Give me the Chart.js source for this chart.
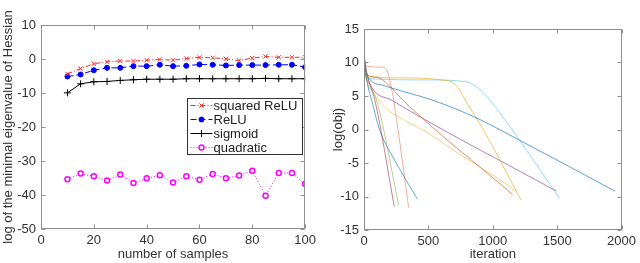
<!DOCTYPE html>
<html>
<head>
<meta charset="utf-8">
<script src="https://cdn.jsdelivr.net/npm/chart.js@4.4.1/dist/chart.umd.min.js"></script>
<style>
html,body{margin:0;padding:0;background:#fff;width:640px;height:263px;overflow:hidden;}
.w{position:absolute;top:0;width:320px;height:263px;}
</style>
</head>
<body>
<div class="w" style="left:0"><canvas id="c1" width="320" height="263"></canvas></div>
<div class="w" style="left:320px"><canvas id="c2" width="320" height="263"></canvas></div>
<script>
// ---------- Left chart data ----------
const samples   = [10,15,20,25,30,35,40,45,50,55,60,65,70,75,80,85,90,95,100];
const sqReLU    = [-4.4,-2.8,-1.4,-0.8,-0.6,-0.6,-0.35,-0.15,-0.35,0.15,0.5,0.35,0.05,-0.45,0.25,0.75,0.5,0.5,0.5];
const relu      = [-5.15,-4.55,-3.3,-2.6,-2.6,-2.1,-2.1,-1.7,-2.1,-2.0,-1.6,-1.7,-1.9,-1.8,-1.8,-1.8,-1.7,-1.7,-2.4];
const sigmoid   = [-9.95,-7.3,-6.7,-6.6,-6.3,-6.1,-5.95,-5.95,-5.95,-5.8,-5.8,-5.8,-5.8,-5.8,-5.8,-5.7,-5.8,-5.8,-5.8];
const quadratic = [-35.35,-33.7,-34.5,-35.7,-34.0,-36.5,-35.1,-34.2,-36.3,-34.5,-35.5,-33.8,-35.1,-34.3,-32.9,-40.2,-33.5,-33.5,-36.8];
const leftLabels = ['squared ReLU','ReLU','sigmoid','quadratic'];
const leftXTicks = [0,20,40,60,80,100];
const leftYTicks = [-50,-40,-30,-20,-10,0,10];

// ---------- Right chart data ----------
const runAIter = [0,20,60,147,300,530,888,1207,1600,1949];
const runAObj  = [11,8.5,7.2,6.6,5.7,4.4,1.6,-1.6,-5.6,-9.2];
const runBIter = [0,20,100,170,224,301,1155];
const runBObj  = [11,8.2,7.8,7.0,6.0,4.4,-9.7];
const runCIter = [0,25,300,600,690,740,786,926,1219];
const runCObj  = [11,8,7.7,7.4,7.0,6.0,4.4,0,-10.5];
const runDIter = [0,20,60,212,1494];
const runDObj  = [11,8.5,6.3,4.4,-9.2];
const runEIter = [0,20,97,270];
const runEObj  = [10,7.5,4.4,-11.3];
const runFIter = [0,30,500,800,890,977,1207,1517];
const runFObj  = [10.5,7.6,7.4,7.1,6.1,4.4,-1.6,-10.2];
const runGIter = [0,15,40,84,235];
const runGObj  = [10.5,7.8,7.0,4.4,-11.5];
const runHIter = [0,30,59,122,224,415];
const runHObj  = [10,6.5,4.4,-0.1,-4.1,-10.4];
const runIIter = [0,10,150,185,210,230,347];
const runIObj  = [13.3,9.5,9.3,8.5,6.5,4.4,-11.7];
const runJIter = [0,40,110,161,250,480,734,1040,1188];
const runJObj  = [10.5,7,4.4,3.3,2.1,-0.35,-3.6,-7.3,-9.3];
const rightXTicks = [0,500,1000,1500,2000];
const rightYTicks = [-15,-10,-5,0,5,10,15];

Chart.defaults.font.family = '"Liberation Sans", Arial, Helvetica, sans-serif';
Chart.defaults.font.size = 13;
Chart.defaults.color = '#333';
Chart.defaults.animation = false;

const toXY = (xs, ys) => xs.map((x, i) => ({x: x, y: ys[i]}));
const plain = v => String(v);

// Box with inward ticks on all four sides
const boxPlugin = {
  id: 'boxTicks',
  afterDatasetsDraw(chart) {
    const {ctx, chartArea: a, scales: {x, y}} = chart;
    ctx.save();
    ctx.strokeStyle = '#8f8f8f';
    ctx.lineWidth = 1;
    const L = Math.round(a.left) + 0.5, R = Math.round(a.right) - 0.5;
    const T = Math.round(a.top) + 0.5, B = Math.round(a.bottom) - 0.5;
    ctx.strokeRect(L, T, R - L, B - T);
    const tl = 4;
    ctx.beginPath();
    x.ticks.forEach(t => {
      const px = Math.round(x.getPixelForValue(t.value)) + 0.5;
      ctx.moveTo(px, B); ctx.lineTo(px, B - tl);
      ctx.moveTo(px, T); ctx.lineTo(px, T + tl);
    });
    y.ticks.forEach(t => {
      const py = Math.round(y.getPixelForValue(t.value)) + 0.5;
      ctx.moveTo(L, py); ctx.lineTo(L + tl, py);
      ctx.moveTo(R, py); ctx.lineTo(R - tl, py);
    });
    ctx.stroke();
    ctx.restore();
  }
};

// In-plot legend (left chart)
const legendPlugin = {
  id: 'inLegend',
  afterDraw(chart) {
    const ctx = chart.ctx;
    const bx = 187.5, by = 98.5, bw = 115, bh = 56;
    ctx.save();
    ctx.fillStyle = '#fff';
    ctx.fillRect(bx, by, bw, bh);
    ctx.strokeStyle = '#333';
    ctx.lineWidth = 1;
    ctx.strokeRect(bx, by, bw, bh);
    ctx.font = '13px "Liberation Sans", Arial, sans-serif';
    ctx.textBaseline = 'middle';
    chart.data.datasets.forEach((ds, i) => {
      const cy = by + 7 + i * 14;
      ctx.strokeStyle = ds.borderColor;
      ctx.lineWidth = ds.borderWidth;
      ctx.setLineDash(ds.borderDash || []);
      ctx.beginPath();
      ctx.moveTo(bx + 3, cy); ctx.lineTo(bx + 25, cy);
      ctx.stroke();
      ctx.setLineDash([]);
      ctx.fillStyle = ds.pointBackgroundColor;
      ctx.strokeStyle = ds.pointBorderColor;
      ctx.lineWidth = ds.pointBorderWidth;
      Chart.helpers.drawPoint(ctx, {pointStyle: ds.pointStyle, radius: ds.pointRadius, borderWidth: ds.pointBorderWidth, rotation: 0}, bx + 14, cy);
      ctx.fillStyle = '#222';
      ctx.fillText(ds.label, bx + 26, cy + 0.5);
    });
    ctx.restore();
  }
};

function tickCb(list) {
  return function(scale) {
    scale.ticks = list.map(v => ({value: v}));
  };
}

new Chart(document.getElementById('c1'), {
  type: 'scatter',
  data: {
    datasets: [
      {label: leftLabels[0], data: toXY(samples, sqReLU), showLine: true,
       borderColor: 'rgb(255,40,40)', borderWidth: 1, borderDash: [5,2,1,2],
       pointStyle: 'crossRot', pointRadius: 3, pointBorderColor: 'rgb(255,40,40)', pointBackgroundColor: 'rgb(255,40,40)', pointBorderWidth: 1},
      {label: leftLabels[1], data: toXY(samples, relu), showLine: true,
       borderColor: '#0000ff', borderWidth: 1, borderDash: [6,3],
       pointStyle: 'circle', pointRadius: 2.5, pointBorderColor: '#0000ff', pointBackgroundColor: '#0000ff', pointBorderWidth: 1},
      {label: leftLabels[2], data: toXY(samples, sigmoid), showLine: true,
       borderColor: '#000', borderWidth: 1,
       pointStyle: 'cross', pointRadius: 3.5, pointBorderColor: '#000', pointBackgroundColor: '#000', pointBorderWidth: 1},
      {label: leftLabels[3], data: toXY(samples, quadratic), showLine: true,
       borderColor: '#ff00ff', borderWidth: 1, borderDash: [1,2],
       pointStyle: 'circle', pointRadius: 2.5, pointBorderColor: '#ff00ff', pointBackgroundColor: '#fff', pointBorderWidth: 1.5}
    ]
  },
  options: {
    responsive: false,
    layout: {padding: {top: 25, right: 13, left: 0, bottom: 0}},
    plugins: {legend: {display: false}, tooltip: {enabled: false}},
    scales: {
      x: {type: 'linear', min: 0, max: 100, afterBuildTicks: tickCb(leftXTicks),
          grid: {display: false, drawTicks: false}, border: {display: false},
          ticks: {padding: 4, maxRotation: 0, autoSkip: false, callback: plain},
          title: {display: true, text: 'number of samples', padding: {top: 0, bottom: 1}},
          afterFit(s) { s.height = 34; }},
      y: {type: 'linear', min: -50, max: 10, afterBuildTicks: tickCb(leftYTicks),
          grid: {display: false, drawTicks: false}, border: {display: false},
          ticks: {padding: 5, autoSkip: false, callback: plain},
          title: {display: true, text: 'log of the minimal eigenvalue of Hessian', padding: {top: 1, bottom: 0}},
          afterFit(s) { s.width = 41; }}
    }
  },
  plugins: [boxPlugin, legendPlugin]
});

const runs = [
  [runAIter, runAObj, 'rgba(0,114,189,0.65)'],
  [runBIter, runBObj, 'rgba(217,83,25,0.65)'],
  [runCIter, runCObj, 'rgba(237,177,32,0.7)'],
  [runDIter, runDObj, 'rgba(126,47,142,0.6)'],
  [runEIter, runEObj, 'rgba(119,172,48,0.55)'],
  [runFIter, runFObj, 'rgba(77,190,238,0.6)'],
  [runGIter, runGObj, 'rgba(162,20,47,0.55)'],
  [runHIter, runHObj, 'rgba(0,114,189,0.6)'],
  [runIIter, runIObj, 'rgba(230,100,60,0.5)'],
  [runJIter, runJObj, 'rgba(237,177,32,0.55)']
];

new Chart(document.getElementById('c2'), {
  type: 'scatter',
  data: {
    datasets: runs.map(r => ({
      data: toXY(r[0], r[1]), showLine: true, borderColor: r[2], borderWidth: 1,
      pointRadius: 0, cubicInterpolationMode: 'monotone'
    }))
  },
  options: {
    responsive: false,
    layout: {padding: {top: 29, right: 15, left: 0, bottom: 0}},
    plugins: {legend: {display: false}, tooltip: {enabled: false}},
    scales: {
      x: {type: 'linear', min: 0, max: 2000, afterBuildTicks: tickCb(rightXTicks),
          grid: {display: false, drawTicks: false}, border: {display: false},
          ticks: {padding: 4, maxRotation: 0, autoSkip: false, callback: plain},
          title: {display: true, text: 'iteration', padding: {top: 0, bottom: 1}},
          afterFit(s) { s.height = 33; }},
      y: {type: 'linear', min: -15, max: 15, afterBuildTicks: tickCb(rightYTicks),
          grid: {display: false, drawTicks: false}, border: {display: false},
          ticks: {padding: 5, autoSkip: false, callback: plain},
          title: {display: true, text: 'log(obj)', padding: {top: 11, bottom: 0}},
          afterFit(s) { s.width = 44; }}
    }
  },
  plugins: [boxPlugin]
});
</script>
</body>
</html>
